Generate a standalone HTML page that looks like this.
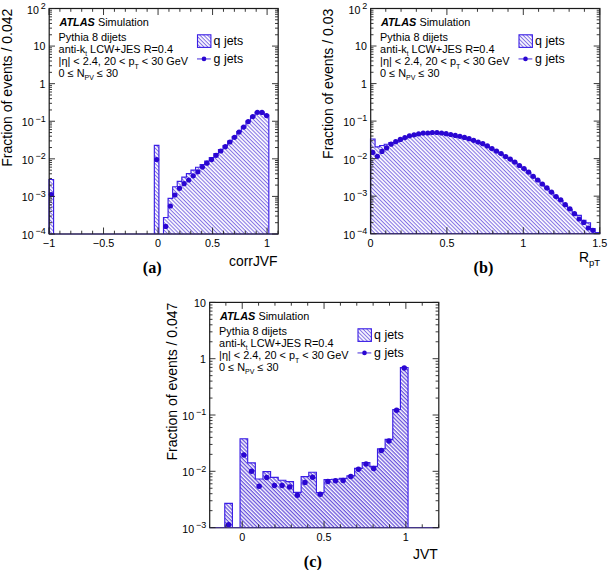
<!DOCTYPE html>
<html><head><meta charset="utf-8"><style>
html,body{margin:0;padding:0;background:#fff;}
svg{display:block;font-family:"Liberation Sans",sans-serif;}
</style></head><body>
<svg width="608" height="570" viewBox="0 0 608 570">
<defs>
<pattern id="hatch" patternUnits="userSpaceOnUse" width="6" height="2.72" patternTransform="rotate(45)">
<rect x="0" y="0" width="6" height="2.72" fill="#fff"/>
<rect x="0" y="0" width="6" height="1.05" fill="#8270e4"/>
</pattern>
<pattern id="hatch2" patternUnits="userSpaceOnUse" width="6" height="2.72" patternTransform="rotate(45)">
<rect x="0" y="0" width="6" height="2.72" fill="#fff"/>
<rect x="0" y="0" width="6" height="1.3" fill="#6852dc"/>
</pattern>
</defs>
<rect width="608" height="570" fill="#fff"/>
<path d="M49,234 L49,179.5 L53.58,179.5 L53.58,234" fill="url(#hatch)" stroke="#3a1ee6" stroke-width="1.15"/>
<path d="M154.34,234 L154.34,145.3 L158.92,145.3 L158.92,234" fill="url(#hatch)" stroke="#3a1ee6" stroke-width="1.15"/>
<path d="M163.5,234 L163.5,217.5 L168.08,217.5 L168.08,198.4 L172.66,198.4 L172.66,186.7 L177.24,186.7 L177.24,181.3 L181.82,181.3 L181.82,177.1 L186.4,177.1 L186.4,173.6 L190.98,173.6 L190.98,170.1 L195.56,170.1 L195.56,167.2 L200.14,167.2 L200.14,164.5 L204.72,164.5 L204.72,161 L209.3,161 L209.3,157.5 L213.88,157.5 L213.88,153.5 L218.46,153.5 L218.46,149.5 L223.04,149.5 L223.04,145.5 L227.62,145.5 L227.62,141 L232.2,141 L232.2,136.5 L236.78,136.5 L236.78,131.5 L241.36,131.5 L241.36,126.5 L245.94,126.5 L245.94,121 L250.52,121 L250.52,116 L255.1,116 L255.1,112 L259.68,112 L259.68,112 L264.26,112 L264.26,115 L268.84,115 L268.84,234" fill="url(#hatch)" stroke="#3a1ee6" stroke-width="1.15"/>
<circle cx="51.29" cy="194.5" r="2.6" fill="#2a06d2"/>
<circle cx="156.63" cy="159.6" r="2.6" fill="#2a06d2"/>
<circle cx="165.79" cy="226.4" r="2.6" fill="#2a06d2"/>
<circle cx="170.37" cy="206" r="2.6" fill="#2a06d2"/>
<circle cx="174.95" cy="195" r="2.6" fill="#2a06d2"/>
<circle cx="179.53" cy="188.3" r="2.6" fill="#2a06d2"/>
<circle cx="184.11" cy="183.7" r="2.6" fill="#2a06d2"/>
<circle cx="188.69" cy="180" r="2.6" fill="#2a06d2"/>
<circle cx="193.27" cy="175.8" r="2.6" fill="#2a06d2"/>
<circle cx="197.85" cy="171.8" r="2.6" fill="#2a06d2"/>
<circle cx="202.43" cy="167.1" r="2.6" fill="#2a06d2"/>
<circle cx="207.01" cy="163.2" r="2.6" fill="#2a06d2"/>
<circle cx="211.59" cy="159.6" r="2.6" fill="#2a06d2"/>
<circle cx="216.17" cy="155.3" r="2.6" fill="#2a06d2"/>
<circle cx="220.75" cy="151" r="2.6" fill="#2a06d2"/>
<circle cx="225.33" cy="146.7" r="2.6" fill="#2a06d2"/>
<circle cx="229.91" cy="142" r="2.6" fill="#2a06d2"/>
<circle cx="234.49" cy="137.3" r="2.6" fill="#2a06d2"/>
<circle cx="239.07" cy="132.1" r="2.6" fill="#2a06d2"/>
<circle cx="243.65" cy="127.1" r="2.6" fill="#2a06d2"/>
<circle cx="248.23" cy="121.6" r="2.6" fill="#2a06d2"/>
<circle cx="252.81" cy="116.5" r="2.6" fill="#2a06d2"/>
<circle cx="257.39" cy="112.3" r="2.6" fill="#2a06d2"/>
<circle cx="261.97" cy="112.4" r="2.6" fill="#2a06d2"/>
<circle cx="266.55" cy="115.6" r="2.6" fill="#2a06d2"/>
<rect x="49.2" y="8.5" width="229" height="225.5" fill="none" stroke="#1a1a1a" stroke-width="1.2"/>
<line x1="49" y1="234" x2="278" y2="234" stroke="#43358a" stroke-width="1.15"/>
<path d="M49,234 v-6.5 M49,8.5 v6.5 M59.9,234 v-3.3 M59.9,8.5 v3.3 M70.81,234 v-3.3 M70.81,8.5 v3.3 M81.71,234 v-3.3 M81.71,8.5 v3.3 M92.62,234 v-3.3 M92.62,8.5 v3.3 M103.52,234 v-6.5 M103.52,8.5 v6.5 M114.43,234 v-3.3 M114.43,8.5 v3.3 M125.33,234 v-3.3 M125.33,8.5 v3.3 M136.24,234 v-3.3 M136.24,8.5 v3.3 M147.14,234 v-3.3 M147.14,8.5 v3.3 M158.05,234 v-6.5 M158.05,8.5 v6.5 M168.95,234 v-3.3 M168.95,8.5 v3.3 M179.86,234 v-3.3 M179.86,8.5 v3.3 M190.76,234 v-3.3 M190.76,8.5 v3.3 M201.67,234 v-3.3 M201.67,8.5 v3.3 M212.57,234 v-6.5 M212.57,8.5 v6.5 M223.48,234 v-3.3 M223.48,8.5 v3.3 M234.38,234 v-3.3 M234.38,8.5 v3.3 M245.29,234 v-3.3 M245.29,8.5 v3.3 M256.19,234 v-3.3 M256.19,8.5 v3.3 M267.1,234 v-6.5 M267.1,8.5 v6.5 M278,234 v-3.3 M278,8.5 v3.3 M49,234 h6 M278,234 h-6 M49,222.69 h3 M278,222.69 h-3 M49,216.07 h3 M278,216.07 h-3 M49,211.37 h3 M278,211.37 h-3 M49,207.73 h3 M278,207.73 h-3 M49,204.75 h3 M278,204.75 h-3 M49,202.24 h3 M278,202.24 h-3 M49,200.06 h3 M278,200.06 h-3 M49,198.14 h3 M278,198.14 h-3 M49,196.42 h6 M278,196.42 h-6 M49,185.1 h3 M278,185.1 h-3 M49,178.48 h3 M278,178.48 h-3 M49,173.79 h3 M278,173.79 h-3 M49,170.15 h3 M278,170.15 h-3 M49,167.17 h3 M278,167.17 h-3 M49,164.66 h3 M278,164.66 h-3 M49,162.48 h3 M278,162.48 h-3 M49,160.55 h3 M278,160.55 h-3 M49,158.83 h6 M278,158.83 h-6 M49,147.52 h3 M278,147.52 h-3 M49,140.9 h3 M278,140.9 h-3 M49,136.21 h3 M278,136.21 h-3 M49,132.56 h3 M278,132.56 h-3 M49,129.59 h3 M278,129.59 h-3 M49,127.07 h3 M278,127.07 h-3 M49,124.89 h3 M278,124.89 h-3 M49,122.97 h3 M278,122.97 h-3 M49,121.25 h6 M278,121.25 h-6 M49,109.94 h3 M278,109.94 h-3 M49,103.32 h3 M278,103.32 h-3 M49,98.62 h3 M278,98.62 h-3 M49,94.98 h3 M278,94.98 h-3 M49,92 h3 M278,92 h-3 M49,89.49 h3 M278,89.49 h-3 M49,87.31 h3 M278,87.31 h-3 M49,85.39 h3 M278,85.39 h-3 M49,83.67 h6 M278,83.67 h-6 M49,72.35 h3 M278,72.35 h-3 M49,65.73 h3 M278,65.73 h-3 M49,61.04 h3 M278,61.04 h-3 M49,57.4 h3 M278,57.4 h-3 M49,54.42 h3 M278,54.42 h-3 M49,51.91 h3 M278,51.91 h-3 M49,49.73 h3 M278,49.73 h-3 M49,47.8 h3 M278,47.8 h-3 M49,46.08 h6 M278,46.08 h-6 M49,34.77 h3 M278,34.77 h-3 M49,28.15 h3 M278,28.15 h-3 M49,23.46 h3 M278,23.46 h-3 M49,19.81 h3 M278,19.81 h-3 M49,16.84 h3 M278,16.84 h-3 M49,14.32 h3 M278,14.32 h-3 M49,12.14 h3 M278,12.14 h-3 M49,10.22 h3 M278,10.22 h-3 M49,8.5 h6 M278,8.5 h-6" stroke="#222" stroke-width="0.9" fill="none"/>
<text x="49" y="247" font-size="10.8" text-anchor="middle">−1</text>
<text x="103.52" y="247" font-size="10.8" text-anchor="middle">−0.5</text>
<text x="158.05" y="247" font-size="10.8" text-anchor="middle">0</text>
<text x="212.57" y="247" font-size="10.8" text-anchor="middle">0.5</text>
<text x="267.1" y="247" font-size="10.8" text-anchor="middle">1</text>
<text x="45.7" y="234.3" font-size="9" text-anchor="end">−4</text>
<text x="33.54" y="239" font-size="10.6" text-anchor="end">10</text>
<text x="45.7" y="196.72" font-size="9" text-anchor="end">−3</text>
<text x="33.54" y="201.42" font-size="10.6" text-anchor="end">10</text>
<text x="45.7" y="159.13" font-size="9" text-anchor="end">−2</text>
<text x="33.54" y="163.83" font-size="10.6" text-anchor="end">10</text>
<text x="45.7" y="121.55" font-size="9" text-anchor="end">−1</text>
<text x="33.54" y="126.25" font-size="10.6" text-anchor="end">10</text>
<text x="45.4" y="88.07" font-size="10.6" text-anchor="end">1</text>
<text x="45.4" y="50.48" font-size="10.6" text-anchor="end">10</text>
<text x="45.7" y="8.8" font-size="9" text-anchor="end">2</text>
<text x="38.79" y="13.5" font-size="10.6" text-anchor="end">10</text>
<text transform="translate(11.9,8.7) rotate(-90)" font-size="14" text-anchor="end">Fraction of events / 0.042</text>
<text x="277.6" y="265.8" font-size="13.9" text-anchor="end">corrJVF</text>
<text x="152.3" y="272.6" font-size="16.2" text-anchor="middle" font-weight="bold" font-family="Liberation Serif">(a)</text>
<text x="59.4" y="26.4" font-size="10.9"><tspan font-weight="bold" font-style="italic">ATLAS</tspan> Simulation</text>
<text x="58.6" y="40.7" font-size="10.9">Pythia 8 dijets</text>
<text x="58.6" y="52.8" font-size="10.9">anti-k<tspan font-size="6.5" dy="3">t</tspan><tspan dy="-3"> LCW+JES R=0.4</tspan></text>
<text x="58.6" y="64.5" font-size="10.9">|η| &lt; 2.4, 20 &lt; p<tspan font-size="7" dy="4.6">T</tspan><tspan dy="-4.6"> &lt; 30 GeV</tspan></text>
<text x="58.6" y="76.7" font-size="10.9">0 ≤ N<tspan font-size="7" dy="2.8">PV</tspan><tspan dy="-2.8"> ≤ 30</tspan></text>
<rect x="197.5" y="34.8" width="13.4" height="12.6" fill="url(#hatch)" stroke="#3a1ee6" stroke-width="1.1"/>
<text x="213.6" y="44.8" font-size="12.4">q jets</text>
<line x1="197" y1="58.9" x2="210.8" y2="58.9" stroke="#8a7ae8" stroke-width="1.6"/>
<circle cx="204" cy="58.9" r="2.3" fill="#2a06d2"/>
<text x="213.6" y="62.8" font-size="12.4">g jets</text>
<path d="M370.5,233.7 L370.5,139 L375.08,139 L375.08,146.9 L379.67,146.9 L379.67,145.5 L384.25,145.5 L384.25,144.2 L388.84,144.2 L388.84,142.6 L393.42,142.6 L393.42,142.5 L398,142.5 L398,140.2 L402.59,140.2 L402.59,138.4 L407.17,138.4 L407.17,136.6 L411.76,136.6 L411.76,135.6 L416.34,135.6 L416.34,134.6 L420.92,134.6 L420.92,133.9 L425.51,133.9 L425.51,133.8 L430.09,133.8 L430.09,133.3 L434.68,133.3 L434.68,133.3 L439.26,133.3 L439.26,133.8 L443.84,133.8 L443.84,134.5 L448.43,134.5 L448.43,135.3 L453.01,135.3 L453.01,136.2 L457.6,136.2 L457.6,137.1 L462.18,137.1 L462.18,138.2 L466.76,138.2 L466.76,139.5 L471.35,139.5 L471.35,141.1 L475.93,141.1 L475.93,142.8 L480.52,142.8 L480.52,144.5 L485.1,144.5 L485.1,146.7 L489.68,146.7 L489.68,149.4 L494.27,149.4 L494.27,151.9 L498.85,151.9 L498.85,154.3 L503.44,154.3 L503.44,157.3 L508.02,157.3 L508.02,160 L512.6,160 L512.6,162.9 L517.19,162.9 L517.19,166.3 L521.77,166.3 L521.77,169.4 L526.36,169.4 L526.36,172.9 L530.94,172.9 L530.94,177.1 L535.52,177.1 L535.52,180.8 L540.11,180.8 L540.11,184.8 L544.69,184.8 L544.69,188.7 L549.28,188.7 L549.28,192.9 L553.86,192.9 L553.86,197.4 L558.44,197.4 L558.44,200.6 L563.03,200.6 L563.03,205.5 L567.61,205.5 L567.61,209.6 L572.2,209.6 L572.2,214.5 L576.78,214.5 L576.78,215.4 L581.36,215.4 L581.36,220.2 L585.95,220.2 L585.95,222.9 L590.53,222.9 L590.53,228.6 L595.12,228.6 L595.12,232.5 L599.7,232.5 L599.7,233.7" fill="url(#hatch)" stroke="#3a1ee6" stroke-width="1.15"/>
<circle cx="372.79" cy="152.4" r="2.6" fill="#2a06d2"/>
<circle cx="377.38" cy="156.3" r="2.6" fill="#2a06d2"/>
<circle cx="381.96" cy="151.4" r="2.6" fill="#2a06d2"/>
<circle cx="386.54" cy="147.9" r="2.6" fill="#2a06d2"/>
<circle cx="391.13" cy="144.2" r="2.6" fill="#2a06d2"/>
<circle cx="395.71" cy="141.7" r="2.6" fill="#2a06d2"/>
<circle cx="400.3" cy="139.4" r="2.6" fill="#2a06d2"/>
<circle cx="404.88" cy="137.6" r="2.6" fill="#2a06d2"/>
<circle cx="409.46" cy="135.8" r="2.6" fill="#2a06d2"/>
<circle cx="414.05" cy="134.8" r="2.6" fill="#2a06d2"/>
<circle cx="418.63" cy="133.8" r="2.6" fill="#2a06d2"/>
<circle cx="423.22" cy="133.1" r="2.6" fill="#2a06d2"/>
<circle cx="427.8" cy="133" r="2.6" fill="#2a06d2"/>
<circle cx="432.38" cy="132.5" r="2.6" fill="#2a06d2"/>
<circle cx="436.97" cy="132.5" r="2.6" fill="#2a06d2"/>
<circle cx="441.55" cy="133" r="2.6" fill="#2a06d2"/>
<circle cx="446.14" cy="133.7" r="2.6" fill="#2a06d2"/>
<circle cx="450.72" cy="134.5" r="2.6" fill="#2a06d2"/>
<circle cx="455.3" cy="135.4" r="2.6" fill="#2a06d2"/>
<circle cx="459.89" cy="136.3" r="2.6" fill="#2a06d2"/>
<circle cx="464.47" cy="137.4" r="2.6" fill="#2a06d2"/>
<circle cx="469.06" cy="138.7" r="2.6" fill="#2a06d2"/>
<circle cx="473.64" cy="140.3" r="2.6" fill="#2a06d2"/>
<circle cx="478.22" cy="142" r="2.6" fill="#2a06d2"/>
<circle cx="482.81" cy="143.7" r="2.6" fill="#2a06d2"/>
<circle cx="487.39" cy="145.9" r="2.6" fill="#2a06d2"/>
<circle cx="491.98" cy="148.6" r="2.6" fill="#2a06d2"/>
<circle cx="496.56" cy="151.1" r="2.6" fill="#2a06d2"/>
<circle cx="501.14" cy="153.5" r="2.6" fill="#2a06d2"/>
<circle cx="505.73" cy="156.5" r="2.6" fill="#2a06d2"/>
<circle cx="510.31" cy="159.2" r="2.6" fill="#2a06d2"/>
<circle cx="514.9" cy="162.1" r="2.6" fill="#2a06d2"/>
<circle cx="519.48" cy="165.5" r="2.6" fill="#2a06d2"/>
<circle cx="524.06" cy="168.6" r="2.6" fill="#2a06d2"/>
<circle cx="528.65" cy="172.1" r="2.6" fill="#2a06d2"/>
<circle cx="533.23" cy="176.3" r="2.6" fill="#2a06d2"/>
<circle cx="537.82" cy="180" r="2.6" fill="#2a06d2"/>
<circle cx="542.4" cy="184" r="2.6" fill="#2a06d2"/>
<circle cx="546.98" cy="187.9" r="2.6" fill="#2a06d2"/>
<circle cx="551.57" cy="192.1" r="2.6" fill="#2a06d2"/>
<circle cx="556.15" cy="196.6" r="2.6" fill="#2a06d2"/>
<circle cx="560.74" cy="199.8" r="2.6" fill="#2a06d2"/>
<circle cx="565.32" cy="204.7" r="2.6" fill="#2a06d2"/>
<circle cx="569.9" cy="208.8" r="2.6" fill="#2a06d2"/>
<circle cx="574.49" cy="213.7" r="2.6" fill="#2a06d2"/>
<circle cx="579.07" cy="219" r="2.6" fill="#2a06d2"/>
<circle cx="583.66" cy="222.4" r="2.6" fill="#2a06d2"/>
<circle cx="588.24" cy="228" r="2.6" fill="#2a06d2"/>
<circle cx="592.82" cy="230.3" r="2.6" fill="#2a06d2"/>
<rect x="370.7" y="8.5" width="229.2" height="225.2" fill="none" stroke="#1a1a1a" stroke-width="1.2"/>
<line x1="370.5" y1="233.7" x2="599.7" y2="233.7" stroke="#43358a" stroke-width="1.15"/>
<path d="M370.5,233.7 v-6.5 M370.5,8.5 v6.5 M385.78,233.7 v-3.3 M385.78,8.5 v3.3 M401.06,233.7 v-3.3 M401.06,8.5 v3.3 M416.34,233.7 v-3.3 M416.34,8.5 v3.3 M431.62,233.7 v-3.3 M431.62,8.5 v3.3 M446.9,233.7 v-6.5 M446.9,8.5 v6.5 M462.18,233.7 v-3.3 M462.18,8.5 v3.3 M477.46,233.7 v-3.3 M477.46,8.5 v3.3 M492.74,233.7 v-3.3 M492.74,8.5 v3.3 M508.02,233.7 v-3.3 M508.02,8.5 v3.3 M523.3,233.7 v-6.5 M523.3,8.5 v6.5 M538.58,233.7 v-3.3 M538.58,8.5 v3.3 M553.86,233.7 v-3.3 M553.86,8.5 v3.3 M569.14,233.7 v-3.3 M569.14,8.5 v3.3 M584.42,233.7 v-3.3 M584.42,8.5 v3.3 M599.7,233.7 v-6.5 M599.7,8.5 v6.5 M370.5,233.7 h6 M599.7,233.7 h-6 M370.5,222.4 h3 M599.7,222.4 h-3 M370.5,215.79 h3 M599.7,215.79 h-3 M370.5,211.1 h3 M599.7,211.1 h-3 M370.5,207.47 h3 M599.7,207.47 h-3 M370.5,204.49 h3 M599.7,204.49 h-3 M370.5,201.98 h3 M599.7,201.98 h-3 M370.5,199.8 h3 M599.7,199.8 h-3 M370.5,197.88 h3 M599.7,197.88 h-3 M370.5,196.17 h6 M599.7,196.17 h-6 M370.5,184.87 h3 M599.7,184.87 h-3 M370.5,178.26 h3 M599.7,178.26 h-3 M370.5,173.57 h3 M599.7,173.57 h-3 M370.5,169.93 h3 M599.7,169.93 h-3 M370.5,166.96 h3 M599.7,166.96 h-3 M370.5,164.45 h3 M599.7,164.45 h-3 M370.5,162.27 h3 M599.7,162.27 h-3 M370.5,160.35 h3 M599.7,160.35 h-3 M370.5,158.63 h6 M599.7,158.63 h-6 M370.5,147.33 h3 M599.7,147.33 h-3 M370.5,140.73 h3 M599.7,140.73 h-3 M370.5,136.04 h3 M599.7,136.04 h-3 M370.5,132.4 h3 M599.7,132.4 h-3 M370.5,129.43 h3 M599.7,129.43 h-3 M370.5,126.91 h3 M599.7,126.91 h-3 M370.5,124.74 h3 M599.7,124.74 h-3 M370.5,122.82 h3 M599.7,122.82 h-3 M370.5,121.1 h6 M599.7,121.1 h-6 M370.5,109.8 h3 M599.7,109.8 h-3 M370.5,103.19 h3 M599.7,103.19 h-3 M370.5,98.5 h3 M599.7,98.5 h-3 M370.5,94.87 h3 M599.7,94.87 h-3 M370.5,91.89 h3 M599.7,91.89 h-3 M370.5,89.38 h3 M599.7,89.38 h-3 M370.5,87.2 h3 M599.7,87.2 h-3 M370.5,85.28 h3 M599.7,85.28 h-3 M370.5,83.57 h6 M599.7,83.57 h-6 M370.5,72.27 h3 M599.7,72.27 h-3 M370.5,65.66 h3 M599.7,65.66 h-3 M370.5,60.97 h3 M599.7,60.97 h-3 M370.5,57.33 h3 M599.7,57.33 h-3 M370.5,54.36 h3 M599.7,54.36 h-3 M370.5,51.85 h3 M599.7,51.85 h-3 M370.5,49.67 h3 M599.7,49.67 h-3 M370.5,47.75 h3 M599.7,47.75 h-3 M370.5,46.03 h6 M599.7,46.03 h-6 M370.5,34.73 h3 M599.7,34.73 h-3 M370.5,28.13 h3 M599.7,28.13 h-3 M370.5,23.44 h3 M599.7,23.44 h-3 M370.5,19.8 h3 M599.7,19.8 h-3 M370.5,16.83 h3 M599.7,16.83 h-3 M370.5,14.31 h3 M599.7,14.31 h-3 M370.5,12.14 h3 M599.7,12.14 h-3 M370.5,10.22 h3 M599.7,10.22 h-3 M370.5,8.5 h6 M599.7,8.5 h-6" stroke="#222" stroke-width="0.9" fill="none"/>
<text x="370.5" y="246.7" font-size="10.8" text-anchor="middle">0</text>
<text x="446.9" y="246.7" font-size="10.8" text-anchor="middle">0.5</text>
<text x="523.3" y="246.7" font-size="10.8" text-anchor="middle">1</text>
<text x="599.7" y="246.7" font-size="10.8" text-anchor="middle">1.5</text>
<text x="367.2" y="234" font-size="9" text-anchor="end">−4</text>
<text x="355.04" y="238.7" font-size="10.6" text-anchor="end">10</text>
<text x="367.2" y="196.47" font-size="9" text-anchor="end">−3</text>
<text x="355.04" y="201.17" font-size="10.6" text-anchor="end">10</text>
<text x="367.2" y="158.93" font-size="9" text-anchor="end">−2</text>
<text x="355.04" y="163.63" font-size="10.6" text-anchor="end">10</text>
<text x="367.2" y="121.4" font-size="9" text-anchor="end">−1</text>
<text x="355.04" y="126.1" font-size="10.6" text-anchor="end">10</text>
<text x="366.9" y="87.97" font-size="10.6" text-anchor="end">1</text>
<text x="366.9" y="50.43" font-size="10.6" text-anchor="end">10</text>
<text x="367.2" y="8.8" font-size="9" text-anchor="end">2</text>
<text x="360.29" y="13.5" font-size="10.6" text-anchor="end">10</text>
<text transform="translate(333.4,8.7) rotate(-90)" font-size="14" text-anchor="end">Fraction of events / 0.03</text>
<text x="579" y="262" font-size="13.9">R<tspan font-size="9.5" dy="3.5">pT</tspan></text>
<text x="483.5" y="272.6" font-size="16.2" text-anchor="middle" font-weight="bold" font-family="Liberation Serif">(b)</text>
<text x="380.9" y="26.4" font-size="10.9"><tspan font-weight="bold" font-style="italic">ATLAS</tspan> Simulation</text>
<text x="380.1" y="40.7" font-size="10.9">Pythia 8 dijets</text>
<text x="380.1" y="52.8" font-size="10.9">anti-k<tspan font-size="6.5" dy="3">t</tspan><tspan dy="-3"> LCW+JES R=0.4</tspan></text>
<text x="380.1" y="64.5" font-size="10.9">|η| &lt; 2.4, 20 &lt; p<tspan font-size="7" dy="4.6">T</tspan><tspan dy="-4.6"> &lt; 30 GeV</tspan></text>
<text x="380.1" y="76.7" font-size="10.9">0 ≤ N<tspan font-size="7" dy="2.8">PV</tspan><tspan dy="-2.8"> ≤ 30</tspan></text>
<rect x="519" y="34.8" width="13.4" height="12.6" fill="url(#hatch)" stroke="#3a1ee6" stroke-width="1.1"/>
<text x="535.1" y="44.8" font-size="12.4">q jets</text>
<line x1="518.5" y1="58.9" x2="532.3" y2="58.9" stroke="#8a7ae8" stroke-width="1.6"/>
<circle cx="525.5" cy="58.9" r="2.3" fill="#2a06d2"/>
<text x="535.1" y="62.8" font-size="12.4">g jets</text>
<path d="M224.77,527.6 L224.77,503.3 L232.41,503.3 L232.41,527.6" fill="url(#hatch2)" stroke="#3a1ee6" stroke-width="1.15"/>
<path d="M240.05,527.6 L240.05,438.75 L247.68,438.75 L247.68,462.9 L255.32,462.9 L255.32,479 L262.96,479 L262.96,471.6 L270.59,471.6 L270.59,477.4 L278.23,477.4 L278.23,480.2 L285.87,480.2 L285.87,481.6 L293.5,481.6 L293.5,492.4 L301.14,492.4 L301.14,476.6 L308.78,476.6 L308.78,472.2 L316.41,472.2 L316.41,492.6 L324.05,492.6 L324.05,479.5 L331.69,479.5 L331.69,479.2 L339.32,479.2 L339.32,478.4 L346.96,478.4 L346.96,475.8 L354.6,475.8 L354.6,468.4 L362.23,468.4 L362.23,462.6 L369.87,462.6 L369.87,466.3 L377.51,466.3 L377.51,448.8 L385.14,448.8 L385.14,439.4 L392.78,439.4 L392.78,409.5 L400.42,409.5 L400.42,367.5 L408.05,367.5 L408.05,527.6" fill="url(#hatch2)" stroke="#3a1ee6" stroke-width="1.15"/>
<circle cx="228.59" cy="524.7" r="2.75" fill="#2a06d2"/>
<circle cx="243.87" cy="454.9" r="2.75" fill="#2a06d2"/>
<circle cx="251.5" cy="471.3" r="2.75" fill="#2a06d2"/>
<circle cx="259.14" cy="486.3" r="2.75" fill="#2a06d2"/>
<circle cx="266.78" cy="477.6" r="2.75" fill="#2a06d2"/>
<circle cx="274.41" cy="485.4" r="2.75" fill="#2a06d2"/>
<circle cx="282.05" cy="485.6" r="2.75" fill="#2a06d2"/>
<circle cx="289.69" cy="487" r="2.75" fill="#2a06d2"/>
<circle cx="297.32" cy="495.2" r="2.75" fill="#2a06d2"/>
<circle cx="304.96" cy="482.5" r="2.75" fill="#2a06d2"/>
<circle cx="312.6" cy="477.3" r="2.75" fill="#2a06d2"/>
<circle cx="320.23" cy="494.2" r="2.75" fill="#2a06d2"/>
<circle cx="327.87" cy="481.6" r="2.75" fill="#2a06d2"/>
<circle cx="335.5" cy="480.8" r="2.75" fill="#2a06d2"/>
<circle cx="343.14" cy="480.5" r="2.75" fill="#2a06d2"/>
<circle cx="350.78" cy="476.6" r="2.75" fill="#2a06d2"/>
<circle cx="358.42" cy="469.3" r="2.75" fill="#2a06d2"/>
<circle cx="366.05" cy="464.1" r="2.75" fill="#2a06d2"/>
<circle cx="373.69" cy="468.4" r="2.75" fill="#2a06d2"/>
<circle cx="381.32" cy="450.5" r="2.75" fill="#2a06d2"/>
<circle cx="388.96" cy="441" r="2.75" fill="#2a06d2"/>
<circle cx="396.6" cy="410.3" r="2.75" fill="#2a06d2"/>
<circle cx="404.24" cy="368" r="2.75" fill="#2a06d2"/>
<rect x="209.7" y="302.4" width="229.1" height="225.2" fill="none" stroke="#1a1a1a" stroke-width="1.2"/>
<line x1="209.5" y1="527.6" x2="438.6" y2="527.6" stroke="#43358a" stroke-width="1.15"/>
<path d="M209.5,527.6 v-3.3 M209.5,302.4 v3.3 M225.86,527.6 v-3.3 M225.86,302.4 v3.3 M242.23,527.6 v-6.5 M242.23,302.4 v6.5 M258.59,527.6 v-3.3 M258.59,302.4 v3.3 M274.96,527.6 v-3.3 M274.96,302.4 v3.3 M291.32,527.6 v-3.3 M291.32,302.4 v3.3 M307.69,527.6 v-3.3 M307.69,302.4 v3.3 M324.05,527.6 v-6.5 M324.05,302.4 v6.5 M340.41,527.6 v-3.3 M340.41,302.4 v3.3 M356.78,527.6 v-3.3 M356.78,302.4 v3.3 M373.14,527.6 v-3.3 M373.14,302.4 v3.3 M389.51,527.6 v-3.3 M389.51,302.4 v3.3 M405.87,527.6 v-6.5 M405.87,302.4 v6.5 M422.24,527.6 v-3.3 M422.24,302.4 v3.3 M438.6,527.6 v-3.3 M438.6,302.4 v3.3 M209.5,527.6 h6 M438.6,527.6 h-6 M209.5,510.65 h3 M438.6,510.65 h-3 M209.5,500.74 h3 M438.6,500.74 h-3 M209.5,493.7 h3 M438.6,493.7 h-3 M209.5,488.25 h3 M438.6,488.25 h-3 M209.5,483.79 h3 M438.6,483.79 h-3 M209.5,480.02 h3 M438.6,480.02 h-3 M209.5,476.76 h3 M438.6,476.76 h-3 M209.5,473.88 h3 M438.6,473.88 h-3 M209.5,471.3 h6 M438.6,471.3 h-6 M209.5,454.35 h3 M438.6,454.35 h-3 M209.5,444.44 h3 M438.6,444.44 h-3 M209.5,437.4 h3 M438.6,437.4 h-3 M209.5,431.95 h3 M438.6,431.95 h-3 M209.5,427.49 h3 M438.6,427.49 h-3 M209.5,423.72 h3 M438.6,423.72 h-3 M209.5,420.46 h3 M438.6,420.46 h-3 M209.5,417.58 h3 M438.6,417.58 h-3 M209.5,415 h6 M438.6,415 h-6 M209.5,398.05 h3 M438.6,398.05 h-3 M209.5,388.14 h3 M438.6,388.14 h-3 M209.5,381.1 h3 M438.6,381.1 h-3 M209.5,375.65 h3 M438.6,375.65 h-3 M209.5,371.19 h3 M438.6,371.19 h-3 M209.5,367.42 h3 M438.6,367.42 h-3 M209.5,364.16 h3 M438.6,364.16 h-3 M209.5,361.28 h3 M438.6,361.28 h-3 M209.5,358.7 h6 M438.6,358.7 h-6 M209.5,341.75 h3 M438.6,341.75 h-3 M209.5,331.84 h3 M438.6,331.84 h-3 M209.5,324.8 h3 M438.6,324.8 h-3 M209.5,319.35 h3 M438.6,319.35 h-3 M209.5,314.89 h3 M438.6,314.89 h-3 M209.5,311.12 h3 M438.6,311.12 h-3 M209.5,307.86 h3 M438.6,307.86 h-3 M209.5,304.98 h3 M438.6,304.98 h-3 M209.5,302.4 h6 M438.6,302.4 h-6" stroke="#222" stroke-width="0.9" fill="none"/>
<text x="242.23" y="540.6" font-size="10.8" text-anchor="middle">0</text>
<text x="324.05" y="540.6" font-size="10.8" text-anchor="middle">0.5</text>
<text x="405.87" y="540.6" font-size="10.8" text-anchor="middle">1</text>
<text x="206.2" y="527.9" font-size="9" text-anchor="end">−3</text>
<text x="194.04" y="532.6" font-size="10.6" text-anchor="end">10</text>
<text x="206.2" y="471.6" font-size="9" text-anchor="end">−2</text>
<text x="194.04" y="476.3" font-size="10.6" text-anchor="end">10</text>
<text x="206.2" y="415.3" font-size="9" text-anchor="end">−1</text>
<text x="194.04" y="420" font-size="10.6" text-anchor="end">10</text>
<text x="205.9" y="363.1" font-size="10.6" text-anchor="end">1</text>
<text x="205.9" y="306.8" font-size="10.6" text-anchor="end">10</text>
<text transform="translate(177,302.6) rotate(-90)" font-size="14" text-anchor="end">Fraction of events / 0.047</text>
<text x="437.8" y="558.7" font-size="13.9" text-anchor="end">JVT</text>
<text x="312.8" y="566.6" font-size="16.2" text-anchor="middle" font-weight="bold" font-family="Liberation Serif">(c)</text>
<text x="219.9" y="320.4" font-size="10.9"><tspan font-weight="bold" font-style="italic">ATLAS</tspan> Simulation</text>
<text x="219.1" y="334.7" font-size="10.9">Pythia 8 dijets</text>
<text x="219.1" y="346.8" font-size="10.9">anti-k<tspan font-size="6.5" dy="3">t</tspan><tspan dy="-3"> LCW+JES R=0.4</tspan></text>
<text x="219.1" y="358.5" font-size="10.9">|η| &lt; 2.4, 20 &lt; p<tspan font-size="7" dy="4.6">T</tspan><tspan dy="-4.6"> &lt; 30 GeV</tspan></text>
<text x="219.1" y="370.7" font-size="10.9">0 ≤ N<tspan font-size="7" dy="2.8">PV</tspan><tspan dy="-2.8"> ≤ 30</tspan></text>
<rect x="358" y="328.8" width="13.4" height="12.6" fill="url(#hatch)" stroke="#3a1ee6" stroke-width="1.1"/>
<text x="374.1" y="338.8" font-size="12.4">q jets</text>
<line x1="357.5" y1="352.9" x2="371.3" y2="352.9" stroke="#8a7ae8" stroke-width="1.6"/>
<circle cx="364.5" cy="352.9" r="2.3" fill="#2a06d2"/>
<text x="374.1" y="356.8" font-size="12.4">g jets</text>
</svg>
</body></html>
